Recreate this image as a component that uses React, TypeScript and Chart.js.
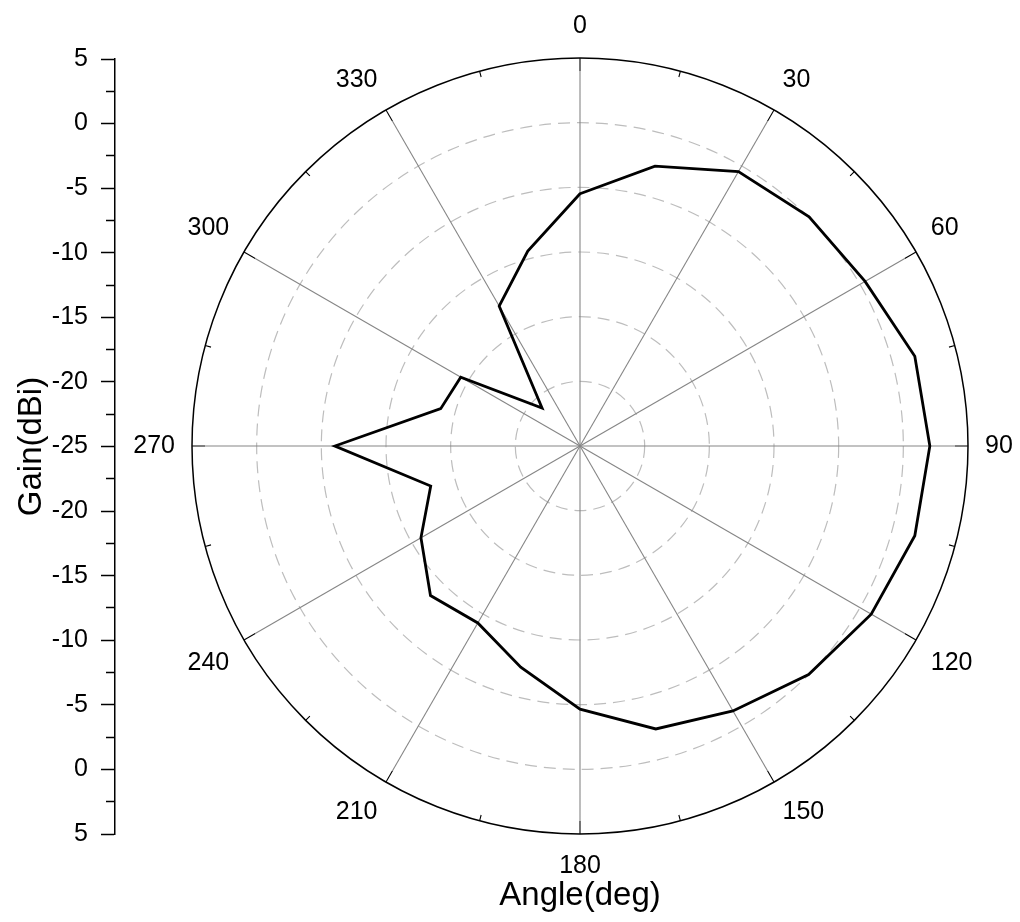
import React, { useEffect, useRef } from 'react';
import { Chart, registerables } from 'chart.js';

Chart.register(...registerables);

// ---- data ----
const ANGLE_LABELS = [
  '0', '15', '30', '45', '60', '75', '90', '105', '120', '135', '150', '165',
  '180', '195', '210', '225', '240', '255', '270', '285', '300', '315', '330', '345',
];
const GAIN_DBI = [
  -5.5, -2.6, -0.5, 0.05, 0.45, 1.8, 2.05, 1.8, 1.0, 0.0, -1.35, -2.35,
  -4.65, -7.3, -9.2, -8.65, -10.8, -13.05, -6.05, -13.85, -14.35, -20.85, -12.5, -9.4,
];
const R_MIN = -25;
const R_MAX = 5;
const R_STEP = 5;
// left gain axis, mirrored around the centre (-25 at the middle, 5 at both ends)
const LEFT_MIN = -30;
const LEFT_MAX = 30;
const LEFT_STEP = 2.5;
const LEFT_LABEL_STEP = 5;

const FONT = 'Liberation Sans';

export default function App() {
  const polarRef = useRef<HTMLCanvasElement>(null);
  const axisRef = useRef<HTMLCanvasElement>(null);

  useEffect(() => {
    Chart.defaults.font.family = FONT;

    const spokeColor = (c: any) => {
      const s = c.chart.scales.r;
      if (!s || !s.drawingArea) return '#858585';
      const R = s.drawingArea;
      const g = c.chart.ctx.createRadialGradient(s.xCenter, s.yCenter, 0, s.xCenter, s.yCenter, R);
      const f = Math.max(0, (R - 13) / R);
      g.addColorStop(0, '#858585');
      g.addColorStop(f, '#858585');
      g.addColorStop(f, '#000000');
      g.addColorStop(1, '#000000');
      return g;
    };
    const spokeDash = (c: any) => {
      const s = c.chart.scales.r;
      if (c.index % 2 === 1 && s && s.drawingArea) {
        return [0, s.drawingArea - 6, 6, 4000];
      }
      return [];
    };

    const polar = new Chart(polarRef.current as HTMLCanvasElement, {
      type: 'radar',
      data: {
        labels: ANGLE_LABELS,
        datasets: [
          {
            data: GAIN_DBI,
            borderColor: '#000000',
            borderWidth: 2.8,
            pointRadius: 0,
            pointHoverRadius: 0,
            fill: false,
            tension: 0,
          },
        ],
      },
      options: {
        responsive: false,
        animation: false,
        layout: { padding: { left: 0, right: 0, top: 11, bottom: 41 } },
        plugins: {
          legend: { display: false },
          tooltip: { enabled: false },
          title: { display: false },
        },
        scales: {
          r: {
            min: R_MIN,
            max: R_MAX,
            startAngle: 0,
            ticks: { display: false, stepSize: R_STEP },
            grid: {
              circular: true,
              color: (c: any) => (c.tick && c.tick.value === R_MAX ? '#000000' : '#bdbdbd'),
              lineWidth: (c: any) => (c.tick && c.tick.value === R_MAX ? 1.5 : 1.2),
            },
            border: {
              dash: (c: any) => (c.tick && c.tick.value === R_MAX ? [] : [12, 7]),
            },
            angleLines: {
              display: true,
              lineWidth: 1.1,
              color: spokeColor,
              borderDash: spokeDash,
            },
            pointLabels: {
              display: true,
              padding: 17,
              color: '#000000',
              font: { family: FONT, size: 25 },
              callback: (label: string, i: number) => (i % 2 === 0 ? label : ''),
            },
          },
        },
      } as any,
    });

    const axis = new Chart(axisRef.current as HTMLCanvasElement, {
      type: 'line',
      data: { datasets: [] },
      options: {
        responsive: false,
        animation: false,
        layout: { padding: { left: 8, top: 59, right: 0, bottom: 0 } },
        plugins: {
          legend: { display: false },
          tooltip: { enabled: false },
        },
        scales: {
          x: {
            type: 'linear',
            position: 'bottom',
            min: 0,
            max: 1,
            ticks: { display: false },
            grid: { display: false, drawTicks: false },
            border: { display: false },
            title: {
              display: true,
              text: 'Angle(deg)',
              color: '#000000',
              font: { family: FONT, size: 33 },
              padding: { top: 42.4, bottom: 6 },
            },
          },
          y: {
            type: 'linear',
            position: 'left',
            min: LEFT_MIN,
            max: LEFT_MAX,
            afterFit: (s: any) => {
              s.width = 107;
            },
            ticks: {
              stepSize: LEFT_STEP,
              autoSkip: false,
              color: '#000000',
              padding: 13,
              font: { family: FONT, size: 25 },
              callback: (v: any) =>
                Number(v) % LEFT_LABEL_STEP === 0 ? String(Math.abs(Number(v)) + R_MIN) : '',
            },
            grid: {
              display: true,
              drawOnChartArea: false,
              drawTicks: true,
              tickLength: 14,
              tickColor: '#000000',
              tickWidth: 1.5,
              tickBorderDash: (c: any) =>
                c.tick && c.tick.value % LEFT_LABEL_STEP !== 0 ? [0, 5, 9, 100] : [],
            },
            border: { display: true, color: '#000000', width: 1.5 },
            title: {
              display: true,
              text: 'Gain(dBi)',
              color: '#000000',
              font: { family: FONT, size: 33 },
              padding: { top: 4, bottom: 4 },
            },
          },
        },
      } as any,
    });

    return () => {
      polar.destroy();
      axis.destroy();
    };
  }, []);

  return (
    <div
      style={{
        position: 'absolute',
        left: 0,
        top: 0,
        width: 1020,
        height: 922,
        overflow: 'hidden',
        background: '#ffffff',
      }}
    >
      <canvas
        ref={polarRef}
        width={1020}
        height={922}
        style={{ position: 'absolute', left: 70, top: 0 }}
      />
      <canvas
        ref={axisRef}
        width={1045}
        height={922}
        style={{ position: 'absolute', left: 0, top: 0 }}
      />
    </div>
  );
}
